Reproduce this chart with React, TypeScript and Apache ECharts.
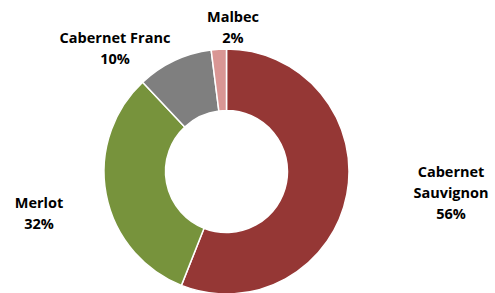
import React, { useEffect, useRef } from "react";
import * as echarts from "echarts";

const categories = ["Cabernet Sauvignon", "Merlot", "Cabernet Franc", "Malbec"];
const values = [56, 32, 10, 2];
const colors = ["#953735", "#77933C", "#7F7F7F", "#D99694"];
const labelNames = ["Cabernet\nSauvignon", "Merlot", "Cabernet Franc", "Malbec"];
// label anchor positions (px), layout only
const labelPos: [number, number][] = [
  [451, 192],
  [39, 212.5],
  [115, 47.5],
  [233, 26.5],
];

export default function App() {
  const ref = useRef<HTMLDivElement>(null);
  useEffect(() => {
    document.body.style.margin = "0";
    if (!ref.current) return;
    const chart = echarts.init(ref.current, undefined, { renderer: "svg" });
    const total = values.reduce((a, b) => a + b, 0);
    chart.setOption({
      animation: false,
      backgroundColor: "#ffffff",
      series: [
        {
          type: "pie",
          center: [226.5, 171.5],
          radius: [61, 122.5],
          startAngle: 90,
          clockwise: true,
          avoidLabelOverlap: false,
          data: categories.map((c, i) => ({
            name: c,
            value: values[i],
            itemStyle: { color: colors[i] },
          })),
          itemStyle: { borderColor: "#ffffff", borderWidth: 1.5 },
          label: {
            show: true,
            position: "outside",
            color: "#000000",
            fontFamily: "Open Sans",
            fontWeight: "bold",
            fontSize: 14.5,
            lineHeight: 21,
            align: "center",
            formatter: (p: any) =>
              `${labelNames[p.dataIndex]}\n${Math.round((p.value / total) * 100)}%`,
          },
          labelLine: { show: false },
          labelLayout: (p: any) => ({
            x: labelPos[p.dataIndex][0],
            y: labelPos[p.dataIndex][1],
            align: "center",
            verticalAlign: "middle",
          }),
        },
      ],
    });
    return () => chart.dispose();
  }, []);
  return <div ref={ref} style={{ width: 495, height: 293 }} />;
}
